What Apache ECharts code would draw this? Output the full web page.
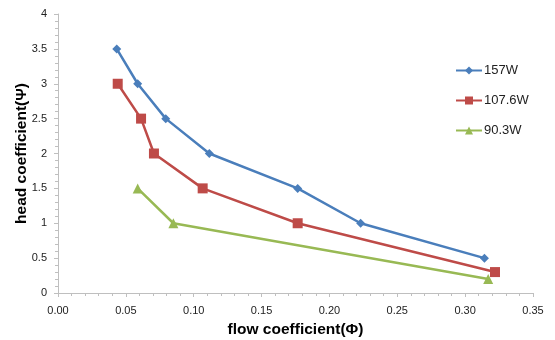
<!DOCTYPE html>
<html><head><meta charset="utf-8">
<script src="https://cdn.jsdelivr.net/npm/echarts@6/dist/echarts.min.js"></script>
<style>html,body{margin:0;padding:0;background:#fff}#c{width:555px;height:340px}</style>
</head><body><div id="c"></div>
<script>
const seriesNames = ["157W", "107.6W", "90.3W"];
const flow157 = [0.0433, 0.0587, 0.0794, 0.1115, 0.1766, 0.223, 0.3142];
const head157 = [3.5, 3.0, 2.5, 2.0, 1.5, 1.0, 0.5];
const flow107 = [0.044, 0.0612, 0.0707, 0.1066, 0.1766, 0.322];
const head107 = [3.0, 2.5, 2.0, 1.5, 1.0, 0.3];
const flow90 = [0.0587, 0.085, 0.317];
const head90 = [1.5, 1.0, 0.2];
const colors = ["#4A7EBB", "#BE4B48", "#98B954"];
const symbols = ["diamond", "rect", "triangle"];
const symbolSizes = [9, 10, 10];

const pairs = (xs, ys) => xs.map((x, i) => [x, ys[i]]);
const datasets = [pairs(flow157, head157), pairs(flow107, head107), pairs(flow90, head90)];

const chart = echarts.init(document.getElementById('c'), null, {renderer: 'canvas'});
chart.setOption({
  animation: false,
  backgroundColor: '#fff',
  grid: {left: 58, right: 22, top: 14, bottom: 47, containLabel: false, outerBoundsMode: 'none'},
  legend: {
    orient: 'vertical', left: 450, top: 59, itemGap: 17,
    itemWidth: 26, itemHeight: 10,
    textStyle: {fontFamily: 'Liberation Sans, Arial', fontSize: 13, color: '#222', padding: [0, 0, 0, -3]},
    data: seriesNames
  },
  xAxis: {
    type: 'value', min: 0, max: 0.35, interval: 0.05,
    name: 'flow coefficient(Φ)', nameLocation: 'middle', nameGap: 29, nameMoveOverlap: false,
    nameTextStyle: {fontFamily: 'Liberation Sans, Arial', fontWeight: 'bold', fontSize: 15.5, color: '#000'},
    axisLine: {lineStyle: {color: '#BFBFBF', width: 1}},
    axisTick: {show: true, inside: false, length: 4, lineStyle: {color: '#BFBFBF'}},
    minorTick: {show: true, splitNumber: 5, length: 3, lineStyle: {color: '#BFBFBF'}},
    splitLine: {show: false},
    axisLabel: {formatter: v => v.toFixed(2), fontFamily: 'Liberation Sans, Arial', fontSize: 11, color: '#222', margin: 12}
  },
  yAxis: {
    type: 'value', min: 0, max: 4, interval: 0.5,
    name: 'head coefficient(Ψ)', nameLocation: 'middle', nameGap: 28, nameMoveOverlap: false,
    nameTextStyle: {fontFamily: 'Liberation Sans, Arial', fontWeight: 'bold', fontSize: 15.5, color: '#000'},
    axisLine: {show: true, lineStyle: {color: '#BFBFBF', width: 1}},
    axisTick: {show: true, inside: false, length: 4, lineStyle: {color: '#BFBFBF'}},
    minorTick: {show: true, splitNumber: 5, length: 3, lineStyle: {color: '#BFBFBF'}},
    splitLine: {show: false},
    axisLabel: {formatter: v => String(v), fontFamily: 'Liberation Sans, Arial', fontSize: 11, color: '#222', margin: 11}
  },
  series: seriesNames.map((n, i) => ({
    name: n, type: 'line', data: datasets[i],
    symbol: symbols[i], symbolSize: symbolSizes[i], showAllSymbol: true,
    lineStyle: {color: colors[i], width: 2.5},
    itemStyle: {color: colors[i]},
    emphasis: {disabled: true}
  }))
});
</script></body></html>
